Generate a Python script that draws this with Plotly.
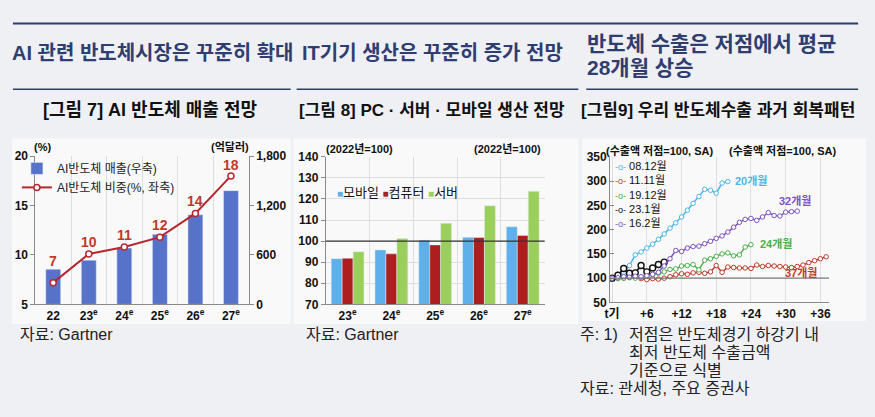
import plotly.graph_objects as go

W, H = 875, 417


def px(x):
    return x / W


def py(y):
    return 1 - y / H


# ---------------- data ----------------
# Figure 7: AI semiconductor sales (right axis, 억달러) and share (left axis, %)
ai_years = ["22", "23<sup>e</sup>", "24<sup>e</sup>", "25<sup>e</sup>", "26<sup>e</sup>", "27<sup>e</sup>"]
ai_sales = [426, 537, 683, 850, 1088, 1381]
ai_share = [7.2, 10.1, 10.8, 11.8, 14.2, 18.0]
ai_share_labels = ["7", "10", "11", "12", "14", "18"]

# Figure 8: production outlook (2022 = 100)
it_years = ["23<sup>e</sup>", "24<sup>e</sup>", "25<sup>e</sup>", "26<sup>e</sup>", "27<sup>e</sup>"]
it_names = ["모바일", "컴퓨터", "서버"]
mobile = [91.7, 95.8, 100.5, 101.8, 106.8]
computer = [91.9, 94.0, 98.2, 101.7, 102.7]
server = [95.0, 101.2, 108.5, 116.8, 123.7]

# Figure 9: export recovery paths from trough (trough = 100)
exp_0812 = [100, 104, 112, 126, 148, 154, 162, 170, 180, 191, 203, 214, 226, 240, 254, 268,
            283, 281, 275, 296, 299]
exp_1111 = [100, 101, 100, 102, 103, 99, 97, 99, 98, 100, 103, 107, 109, 108, 111, 112, 110,
            113, 126, 112, 123, 122, 121, 121, 120, 127, 124, 126, 125, 124, 123, 122, 124, 127,
            132, 136, 140, 144]
exp_1912 = [100, 99, 100, 101, 100, 102, 104, 107, 110, 113, 118, 119, 125, 126, 128, 117, 137,
            140, 145, 150, 152, 146, 148, 164, 169]
exp_2301 = [100, 106, 120, 110, 111, 126, 113, 121, 128, 133]
exp_1602 = [100, 101, 103, 102, 104, 103, 105, 108, 112, 125, 140, 157, 155, 162, 165, 166, 171,
            176, 182, 187, 195, 205, 215, 221, 223, 219, 226, 235, 229, 228, 236, 237, 238]
exp_names = ["08.12월", "11.11월", "19.12월", "23.1월", "16.2월"]
exp_months_labels = ["20개월", "37개월", "24개월", None, "32개월"]
t_tickvals = [0, 6, 12, 18, 24, 30, 36]
t_ticktext = ["t기", "+6", "+12", "+18", "+24", "+30", "+36"]

# ---------------- style ----------------
PAGE_BG = "#eff0f4"
PANEL_BG = "#f9f9f9"
NAVY = "#2f3d70"
BAR1 = "#5773c9"
RED1 = "#b7282e"
it_colors = ["#5eb0ea", "#ad1f1f", "#9bcf5d"]
series_colors = ["#4db6e8", "#c0392b", "#4cae4c", "#111111", "#7d52c4"]

KR = "Liberation Sans, Noto Sans CJK KR"
NUM = "Liberation Sans, Noto Sans CJK KR"
tick_font = dict(family=NUM, size=12, color="#111", weight="bold")
AX = "#8a8a8a"
GRID = "#dedede"

fig = go.Figure()

# ---- Figure 7 ----
fig.add_trace(go.Bar(
    x=ai_years, y=ai_sales, name="AI반도체 매출(우축)", marker_color=BAR1,
    width=0.42, xaxis="x", yaxis="y", legend="legend"))
fig.add_trace(go.Scatter(
    x=ai_years, y=ai_share, name="AI반도체 비중(%, 좌축)", mode="lines+markers",
    line=dict(color=RED1, width=2),
    marker=dict(symbol="circle", size=6, color="white", line=dict(color=RED1, width=1.5)),
    xaxis="x", yaxis="y2", legend="legend"))

# ---- Figure 8 ----
for name, vals, col in zip(it_names, [mobile, computer, server], it_colors):
    fig.add_trace(go.Bar(x=it_years, y=vals, name=name, marker_color=col,
                         xaxis="x2", yaxis="y3", showlegend=False))

# ---- Figure 9 ----
exp_series = [exp_0812, exp_1111, exp_1912, exp_2301, exp_1602]
for name, vals, col in zip(exp_names, exp_series, series_colors):
    is_black = name == "23.1월"
    fig.add_trace(go.Scatter(
        x=list(range(len(vals))), y=vals, name=name, mode="lines+markers",
        line=dict(color=col, width=1.8 if is_black else 1.5),
        marker=dict(symbol="circle", size=6 if is_black else 4.5, color="white",
                    line=dict(color=col, width=1.4 if is_black else 1)),
        xaxis="x3", yaxis="y5", showlegend=False))

fig.update_layout(
    width=W, height=H, autosize=False,
    margin=dict(l=0, r=0, t=0, b=0),
    paper_bgcolor=PAGE_BG, plot_bgcolor="rgba(0,0,0,0)",
    barmode="group", bargap=0.25, bargroupgap=0,
    font=dict(family=KR, color="#111"),
    # Figure 7 axes
    xaxis=dict(domain=[px(30.7), px(245.7)], anchor="y", type="category", tickson="boundaries",
               showgrid=True, gridcolor=GRID, showline=True, linecolor=AX, ticks="",
               tickfont=tick_font),
    yaxis=dict(domain=[py(307.7), py(154.3)], anchor="x", side="right", range=[0, 1800],
               tickvals=[0, 600, 1200, 1800], tickformat=",", showline=True, linecolor=AX,
               ticks="outside", ticklen=4, tickcolor=AX, showgrid=False, zeroline=False,
               tickfont=tick_font),
    yaxis2=dict(overlaying="y", anchor="x", side="left", range=[5, 20], dtick=5,
                showline=True, linecolor=AX, ticks="outside", ticklen=4, tickcolor=AX,
                showgrid=False, zeroline=False, tickfont=tick_font),
    # Figure 8 axes
    xaxis2=dict(domain=[px(323.3), px(544)], anchor="y3", type="category", tickson="boundaries",
                showgrid=True, gridcolor=GRID, showline=True, linecolor=AX, ticks="",
                tickfont=tick_font),
    yaxis3=dict(domain=[py(307.7), py(155)], anchor="x2", side="left", range=[70, 140], dtick=10,
                showline=True, linecolor=AX, ticks="outside", ticklen=4, tickcolor=AX,
                showgrid=True, gridcolor=GRID, zeroline=False, tickfont=tick_font),
    yaxis4=dict(overlaying="y3", anchor="x2", side="right", range=[70, 140], dtick=10,
                showline=True, linecolor=AX, ticks="outside", ticklen=4, tickcolor=AX,
                showgrid=False, zeroline=False, tickfont=tick_font),
    # Figure 9 axes
    xaxis3=dict(domain=[px(610), px(830.7)], anchor="y5", range=[-0.35, 37.5],
                tickvals=t_tickvals, ticktext=t_ticktext, showgrid=True, gridcolor=GRID,
                showline=True, linecolor=AX, ticks="", zeroline=False, tickfont=tick_font),
    yaxis5=dict(domain=[py(305.7), py(155)], anchor="x3", side="left", range=[50, 350], dtick=50,
                showline=True, linecolor=AX, ticks="inside", ticklen=4, tickcolor=AX,
                showgrid=False, zeroline=False, tickfont=tick_font),
    yaxis6=dict(overlaying="y5", anchor="x3", side="right", range=[50, 350], dtick=50,
                showline=True, linecolor=AX, ticks="inside", ticklen=4, tickcolor=AX,
                showgrid=False, zeroline=False, tickfont=tick_font),
    legend=dict(x=px(12), y=py(152), xanchor="left", yanchor="top", bgcolor="rgba(0,0,0,0)",
                font=dict(family=KR, size=12, color="#222"), traceorder="normal", tracegroupgap=0),
)

shapes = []
# panel backgrounds
for x0, x1, y0, y1 in [(7, 288, 136, 328), (291, 578, 136, 328), (582, 868, 136, 325)]:
    shapes.append(dict(type="rect", xref="paper", yref="paper", x0=px(x0), x1=px(x1),
                       y0=py(y1), y1=py(y0), fillcolor=PANEL_BG, line=dict(width=0), layer="below"))
# header rules
shapes.append(dict(type="line", xref="paper", yref="paper", x0=px(8), x1=px(860), y0=py(17), y1=py(17),
                   line=dict(color=NAVY, width=2), layer="above"))
for x0, x1 in [(8, 288), (294, 578), (586, 860)]:
    shapes.append(dict(type="line", xref="paper", yref="paper", x0=px(x0), x1=px(x1), y0=py(85), y1=py(85),
                       line=dict(color=NAVY, width=1.5)))
# reference lines at 100
shapes.append(dict(type="line", xref="x2 domain", yref="y3", x0=0, x1=1, y0=100, y1=100,
                   line=dict(color="#333", width=1.2)))
shapes.append(dict(type="line", xref="x3 domain", yref="y5", x0=0, x1=1, y0=100, y1=100,
                   line=dict(color="#777", width=1.2)))
fig.update_layout(shapes=shapes)

ann = []


def text(x, y, s, size=12, color="#111", weight="normal", xanchor="left", align="left",
         family=KR, yanchor="middle"):
    ann.append(dict(xref="paper", yref="paper", x=px(x), y=py(y), text=s, showarrow=False,
                    xanchor=xanchor, yanchor=yanchor, align=align,
                    font=dict(family=family, size=size, color=color, weight=weight)))


# headings
text(5, 48, "AI 관련 반도체시장은 꾸준히 확대", 20, NAVY, "bold")
text(297, 48, "IT기기 생산은 꾸준히 증가 전망", 20, NAVY, "bold")
text(585, 38, "반도체 수출은 저점에서 평균", 21, NAVY, "bold")
text(585, 62.5, "28개월 상승", 21, NAVY, "bold")
# figure titles
text(146, 107, "[그림 7] AI 반도체 매출 전망", 18, "#111", "bold", "center")
text(430, 107, "[그림 8] PC · 서버 · 모바일 생산 전망", 17, "#111", "bold", "center")
text(719, 107, "[그림9] 우리 반도체수출 과거 회복패턴", 17, "#111", "bold", "center")
# unit labels
text(38, 145, "(%)", 11, "#111", "bold", "center")
text(227, 145, "(억달러)", 11, "#111", "bold", "center")
text(357, 146, "(2022년=100)", 11, "#111", "bold", "center")
text(507, 146, "(2022년=100)", 11, "#111", "bold", "center")
text(660, 148, "(수출액 저점=100, SA)", 11, "#111", "bold", "center")
text(784, 148, "(수출액 저점=100, SA)", 11, "#111", "bold", "center")
# sources / notes
text(13, 339, "자료: Gartner", 16, "#222")
text(301, 339, "자료: Gartner", 16, "#222")
text(578, 339, "주: 1)", 16, "#222")
text(627, 339, "저점은 반도체경기 하강기 내", 16, "#222")
text(627, 357.5, "최저 반도체 수출금액", 16, "#222")
text(627, 376, "기준으로 식별", 16, "#222")
text(578, 394.5, "자료: 관세청, 주요 증권사", 16, "#222")

# figure 8 legend (compact key)
key8 = "&nbsp;".join(f"<span style='color:{c};font-size:10px'>■</span>{n}" for n, c in zip(it_names, it_colors))
text(333, 192, key8, 13, "#111", "normal")

# figure 9 legend (compact key, one block)
key9 = "<br>".join(f"<span style='color:{c};font-size:9px'>-o-</span> {n}"
                   for n, c in zip(exp_names, series_colors))
text(613, 156, key9, 11, "#111", "normal", yanchor="top")

# data labels for AI share
label_shift = [22, 12, 12, 12, 12, 11]
for i, (v, lab) in enumerate(zip(ai_share, ai_share_labels)):
    ann.append(dict(xref="x", yref="y2", x=i, y=v, text=lab, showarrow=False, yshift=label_shift[i],
                    font=dict(family=NUM, size=14, color="#c0392b", weight="bold")))

# months labels at ends of export series
end_style = {
    "20개월": dict(xanchor="left", xshift=5, yshift=1),
    "32개월": dict(xanchor="center", xshift=-2, yshift=11),
    "24개월": dict(xanchor="left", xshift=7, yshift=1),
    "37개월": dict(xanchor="right", xshift=-7, yshift=-16),
}
for vals, lab, col in zip(exp_series, exp_months_labels, series_colors):
    if lab is None:
        continue
    st = end_style[lab]
    ann.append(dict(xref="x3", yref="y5", x=len(vals) - 1, y=vals[-1], text=lab, showarrow=False,
                    xanchor=st["xanchor"], yanchor="middle", xshift=st["xshift"], yshift=st["yshift"],
                    font=dict(family=KR, size=11, color=col, weight="bold")))

fig.update_layout(annotations=ann)
fig.write_html("out.html", config={"displayModeBar": False},
               post_script="document.body.style.margin='0';")
